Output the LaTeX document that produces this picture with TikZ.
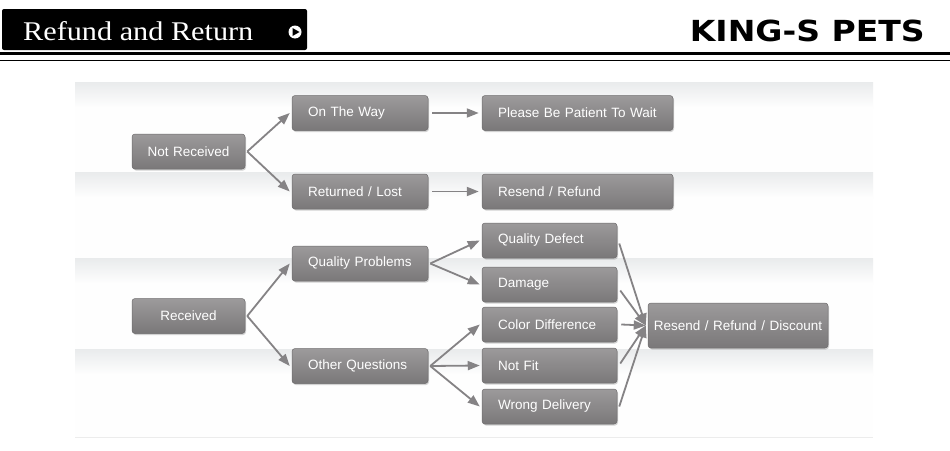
\documentclass[tikz,border=0pt]{standalone}
\usepackage{fontspec}
\setmainfont{Liberation Serif}
\newfontfamily\titlefont[FakeStretch=1.12]{Liberation Serif}
\newfontfamily\boxfont{Liberation Sans}
\newfontfamily\brandfont[FakeStretch=1.14]{DejaVu Sans}
\usetikzlibrary{arrows.meta,shadows}
\definecolor{boxtop}{HTML}{9C9A9B}
\definecolor{boxbot}{HTML}{7A7879}
\definecolor{arrowc}{HTML}{858385}
\definecolor{bandshade}{HTML}{E9EBEC}
\tikzset{
  x=1pt,y=-1pt,
  flowbox/.style={rounded corners=3pt, top color=boxtop, bottom color=boxbot,
    draw=boxbot!90!black, line width=0.5pt, text=white,
    font=\boxfont\fontsize{13.5}{16}\selectfont,
    inner xsep=4pt, inner ysep=0pt, minimum height=35pt,
    drop shadow={shadow xshift=1pt, shadow yshift=-1.5pt, opacity=0.35}},
  leftbox/.style={flowbox, align=left, text width=#1-8pt},
  ctrbox/.style={flowbox, align=center, text width=#1-8pt},
  conn/.style={draw=arrowc, line width=1.8pt,
    -{Triangle[length=12pt,width=9pt]}},
}
\newcommand{\ind}{\hspace*{12pt}}
\begin{document}
\begin{tikzpicture}
\useasboundingbox (0,0) rectangle (950,450);
\fill[white] (0,0) rectangle (950,450);
% header
\fill[black, rounded corners=2pt] (2,9) rectangle (307,50);
\node[anchor=west, text=white, font=\titlefont\fontsize{27}{29}\selectfont, inner sep=0pt] (title) at (23,31) {Refund and Return};
\fill[white] (295,32) circle (6.5);
\fill[black] (292.5,28) -- (299.5,32) -- (292.5,36) -- cycle;
\draw[line width=3pt] (0,53.5) -- (950,53.5);
\draw[line width=1.3pt] (0,60.5) -- (950,60.5);
\node[anchor=base east, font=\brandfont\bfseries\fontsize{29}{32}\selectfont, inner sep=0pt] (brand) at (925,41.5) {KING-S PETS};
% panel
\fill[bandshade!40] (75,82) rectangle (873,437);
\foreach \a/\b in {82/172,172/258,258/349,349/437}{
  \shade[top color=bandshade, bottom color=white!97!bandshade] (75,\a) rectangle (873,\a+26);
  \fill[white!97!bandshade] (75,\a+26) rectangle (873,\b);
}
\draw[white!85!gray, line width=0.6pt] (75,437) -- (873,437);
% nodes
\node[ctrbox=113pt] (nr) at (188.5,151.5) {Not Received};
\node[leftbox=136pt] (otw) at (360,113) {\ind On The Way};
\node[leftbox=136pt] (rl) at (360,191.5) {\ind Returned / Lost};
\node[leftbox=191pt] (pat) at (577.5,113) {\ind Please Be Patient To Wait};
\node[leftbox=191pt] (rr) at (577.5,191.5) {\ind Resend / Refund};
\node[ctrbox=113pt] (rc) at (188.5,316) {Received};
\node[leftbox=136pt] (qp) at (360,263.5) {\ind Quality Problems};
\node[leftbox=136pt] (oq) at (360,366) {\ind Other Questions};
\node[leftbox=135pt] (qd) at (549.5,240.5) {\ind Quality Defect};
\node[leftbox=135pt] (dm) at (549.5,284.5) {\ind Damage};
\node[leftbox=135pt] (cd) at (549.5,324.5) {\ind Color Difference};
\node[leftbox=135pt] (nf) at (549.5,365.5) {\ind Not Fit};
\node[leftbox=135pt] (wd) at (549.5,406.5) {\ind Wrong Delivery};
\node[ctrbox=180pt, minimum height=45pt] (rrd) at (738,325.5) {Resend / Refund / Discount};
% connectors
\draw[conn] ([xshift=2pt]nr.east) -- ([xshift=-2pt]otw.west);
\draw[conn] ([xshift=2pt]nr.east) -- ([xshift=-2pt]rl.west);
\draw[conn] ([xshift=4pt]otw.east) -- ([xshift=-3pt]pat.west);
\draw[conn] ([xshift=4pt]rl.east) -- ([xshift=-3pt]rr.west);
\draw[conn] ([xshift=2pt]rc.east) -- ([xshift=-2pt]qp.west);
\draw[conn] ([xshift=2pt]rc.east) -- ([xshift=-2pt]oq.west);
\draw[conn] ([xshift=2pt]qp.east) -- ([xshift=-2pt]qd.west);
\draw[conn] ([xshift=2pt]qp.east) -- ([xshift=-2pt]dm.west);
\draw[conn] ([xshift=2pt]oq.east) -- ([xshift=-2pt]cd.west);
\draw[conn] ([xshift=2pt]oq.east) -- ([xshift=-2pt]nf.west);
\draw[conn] ([xshift=2pt]oq.east) -- ([xshift=-2pt]wd.west);
\coordinate (hub) at ([xshift=-2pt]rrd.west);
\draw[conn] ([xshift=2pt,yshift=-3pt]qd.east) -- (hub);
\draw[conn] ([xshift=3pt,yshift=-6pt]dm.east) -- (hub);
\draw[conn] ([xshift=4pt]cd.east) -- (hub);
\draw[conn] ([xshift=3pt,yshift=2pt]nf.east) -- (hub);
\draw[conn] ([xshift=2pt]wd.east) -- (hub);
\end{tikzpicture}
\end{document}
